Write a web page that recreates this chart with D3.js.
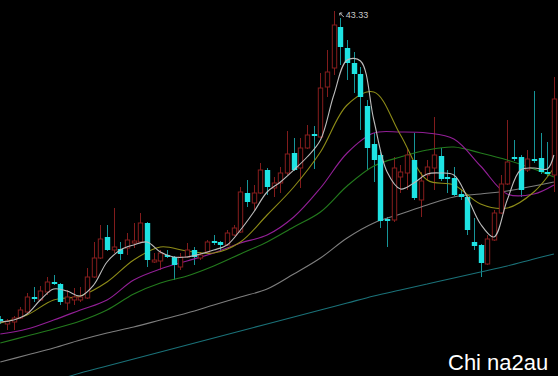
<!DOCTYPE html>
<html>
<head>
<meta charset="utf-8">
<script src="https://cdn.jsdelivr.net/npm/d3@7"></script>
<style>
  html, body { margin: 0; padding: 0; background: #000; }
  svg { display: block; }
</style>
</head>
<body>
<svg width="558" height="376"></svg>
<script>
const opens = [12.53,12.03,12.23,12.63,13.23,14.73,14.43,15.23,16.23,16.03,
    14.13,14.43,14.43,14.63,16.73,18.63,20.73,19.43,19.53,19.63,
    20.13,20.23,22.13,18.23,18.33,18.93,18.73,17.73,18.73,19.43,
    18.63,19.23,20.33,20.23,19.93,20.93,21.23,25.13,24.13,25.13,
    27.43,25.63,26.13,27.13,29.13,27.63,29.63,31.03,30.73,35.73,
    37.63,41.73,39.63,38.13,37.03,33.83,30.03,28.93,22.53,22.43,
    26.73,27.13,28.43,24.43,26.93,27.63,28.83,26.73,26.63,25.03,
    24.73,20.23,19.93,18.03,20.43,23.13,26.03,28.73,28.73,27.43,
    28.53,28.63,27.23,26.93];
const closes = [12.33,12.33,12.63,13.43,14.73,14.53,15.33,16.23,16.03,14.23,
    14.73,14.73,14.73,16.73,18.63,20.53,19.43,19.73,19.03,20.43,
    20.33,22.13,18.43,18.43,19.13,18.73,17.93,18.73,19.43,18.73,
    18.93,20.23,20.13,19.93,21.13,21.63,25.23,24.23,25.13,27.43,
    25.73,26.13,27.13,29.03,27.43,29.63,30.93,30.83,35.63,37.23,
    41.93,39.73,38.13,37.03,34.73,29.63,28.43,22.33,22.33,27.63,
    27.23,28.93,24.63,26.33,27.73,28.93,26.53,26.53,24.93,24.73,
    21.43,19.83,18.13,20.53,23.13,26.03,28.23,28.53,25.43,28.53,
    28.33,27.23,27.03,34.53];
const highs = [12.83,12.53,12.83,13.73,15.13,15.73,15.83,16.73,16.93,16.13,
    15.43,15.63,15.73,17.63,20.23,21.93,21.93,23.63,20.23,21.13,
    22.13,23.13,22.23,19.13,19.43,19.43,18.83,19.13,20.13,19.73,
    19.23,20.43,20.93,20.33,21.43,21.93,25.73,26.43,25.93,28.13,
    27.63,26.73,27.73,31.33,30.63,30.63,31.93,31.83,37.13,39.43,
    43.33,42.63,40.43,39.23,37.73,34.43,31.13,29.23,22.73,28.73,
    27.93,29.63,31.13,27.23,28.43,32.73,29.63,27.43,27.73,25.43,
    24.93,22.63,20.03,20.93,23.43,26.93,32.43,30.43,28.93,29.43,
    35.33,31.13,30.23,36.73];
const lows = [12.03,11.43,11.43,12.53,13.13,14.23,14.33,14.93,15.93,13.93,
    13.43,13.93,14.23,14.53,16.63,18.53,19.33,19.13,18.43,18.93,
    19.63,20.13,17.73,18.13,17.43,18.63,16.43,17.43,18.63,17.93,
    18.43,19.13,19.93,19.23,19.83,20.83,21.13,23.73,23.43,25.03,
    24.93,24.73,25.13,26.93,27.33,25.63,29.53,27.53,30.63,34.73,
    36.93,37.93,36.43,35.13,31.43,27.43,26.23,21.63,19.73,22.23,
    25.13,25.43,24.43,22.73,26.43,25.43,26.33,25.13,24.83,24.43,
    20.93,19.43,16.73,17.93,20.33,23.03,25.93,28.33,24.73,27.23,
    28.13,27.03,26.83,25.23];

// moving averages (bar index -> value)
const ma5Idx = [0,2,4,6,8,10,12,14,16,18,20,22,24,26,28,30,32,34,36,38,40,
    42,44,46,48,50,52,54,56,58,60,62,64,66,68,70,72,74,76,78,80,82,83];
const ma5 = [12.23,12.43,13.03,14.43,15.53,15.33,14.83,15.93,18.23,19.43,19.93,
    20.23,19.23,18.73,18.73,19.03,19.43,19.93,21.43,23.23,25.23,26.23,27.43,
    28.73,30.43,34.93,38.43,38.33,32.43,27.23,25.53,26.13,27.03,27.13,26.93,
    24.73,22.03,20.73,24.43,27.43,27.63,27.53,28.93];
const maIdx = [0,4,8,12,16,20,24,28,32,36,40,44,48,52,56,60,64,68,72,76,80,83];
const ma10 = [12.13,12.93,14.43,14.83,16.23,18.43,19.73,19.33,19.13,20.23,22.93,
    25.73,29.23,33.93,35.23,30.93,26.43,25.93,24.03,23.63,25.23,27.63];
const ma20 = [11.03,11.53,12.43,13.43,14.43,16.43,17.53,18.33,19.13,20.13,20.93,
    22.73,25.63,29.13,31.13,31.23,31.13,30.53,27.83,25.03,25.03,25.93];
const ma30 = [10.13,10.83,11.53,12.33,13.43,15.03,16.13,16.83,17.83,19.03,20.23,
    21.73,23.23,25.83,27.83,28.73,29.43,29.73,29.13,28.43,27.53,26.73];
const ma60 = [8.23,8.93,9.63,10.43,11.13,11.73,12.43,13.13,13.93,14.73,15.53,
    17.03,18.63,20.63,22.13,23.03,23.93,24.73,25.03,25.33,25.83,26.23];
const ma120 = [4.93,5.63,6.33,7.13,7.83,8.53,9.23,9.93,10.63,11.33,12.03,
    12.73,13.43,14.13,14.83,15.43,16.03,16.63,17.23,17.83,18.53,19.03];

const watermark = "Chi na2au";

const drawChart = () => {
    const svg = d3.select("svg");
    const width = 558, height = 376;

    const bars = opens.map((o, i) => ({i: i, open: o, close: closes[i], high: highs[i], low: lows[i]}));

    const scX = d3.scaleLinear().domain([0, bars.length - 1]).range([0.3, 553.9]);
    const scY = d3.scaleLinear().domain([6.83, 44.43]).range([height, 0]);

    svg.append("rect").attr("width", width).attr("height", height).attr("fill", "#000");

    const lines = [
        {idx: maIdx, vals: ma120, color: "#1a7178"},
        {idx: maIdx, vals: ma60, color: "#7e7e7e"},
        {idx: maIdx, vals: ma30, color: "#237a1d"},
        {idx: maIdx, vals: ma20, color: "#921f96"},
        {idx: maIdx, vals: ma10, color: "#8e8c18"},
    ];

    const line = d3.line()
        .x(d => scX(d[0]))
        .y(d => scY(d[1]))
        .curve(d3.curveCatmullRom);

    const cw = 4.4;
    const up = bars.filter(d => d.close >= d.open);
    const down = bars.filter(d => d.close < d.open);

    // wicks
    svg.selectAll(".wick")
       .data(bars)
       .enter()
       .append("line")
       .attr("x1", d => Math.round(scX(d.i)) + 0.5)
       .attr("x2", d => Math.round(scX(d.i)) + 0.5)
       .attr("y1", d => scY(d.high))
       .attr("y2", d => scY(d.low))
       .attr("stroke", d => d.close >= d.open ? "#821c1c" : "#169599")
       .attr("stroke-width", 1);

    // longer MAs under the candles
    lines.forEach(l => {
        svg.append("path")
           .attr("d", line(l.idx.map((k, j) => [k, l.vals[j]])))
           .attr("fill", "none")
           .attr("stroke", l.color)
           .attr("stroke-width", 1.1);
    });

    svg.selectAll(".up")
       .data(up)
       .enter()
       .append("rect")
       .attr("x", d => Math.round(scX(d.i)) - cw / 2 + 0.5)
       .attr("y", d => scY(d.close))
       .attr("width", cw)
       .attr("height", d => Math.max(1, scY(d.open) - scY(d.close)))
       .attr("fill", "#000")
       .attr("stroke", "#861d1d")
       .attr("stroke-width", 1);

    svg.selectAll(".down")
       .data(down)
       .enter()
       .append("rect")
       .attr("x", d => Math.round(scX(d.i)) - cw / 2)
       .attr("y", d => scY(d.open))
       .attr("width", cw + 1)
       .attr("height", d => Math.max(1.5, scY(d.close) - scY(d.open)))
       .attr("fill", "#1ee3e3");

    // MA5 on top
    svg.append("path")
       .attr("d", line(ma5Idx.map((k, j) => [k, ma5[j]])))
       .attr("fill", "none")
       .attr("stroke", "#bdbdbd")
       .attr("stroke-width", 1.1);

    // highest price marker
    const top = bars.reduce((a, b) => b.high > a.high ? b : a);
    const tx = scX(top.i), ty = scY(top.high);
    svg.append("path")
       .attr("d", `M${tx + 10},${ty + 6} L${tx + 6},${ty + 2} M${tx + 6},${ty + 2} l0,2.5 M${tx + 6},${ty + 2} l2.5,0`)
       .attr("stroke", "#bbbbbb")
       .attr("stroke-width", 1)
       .attr("fill", "none");
    svg.append("text")
       .attr("x", tx + 12)
       .attr("y", ty + 7)
       .attr("font-family", "Liberation Sans, Arial, sans-serif")
       .attr("font-size", 9)
       .attr("fill", "#c8c8c8")
       .text(top.high.toFixed(2));

    svg.append("text")
       .attr("x", 448)
       .attr("y", 370)
       .attr("font-family", "Liberation Sans, Arial, sans-serif")
       .attr("font-size", 22)
       .attr("fill", "#ffffff")
       .text(watermark);
}

drawChart();
</script>
</body>
</html>
